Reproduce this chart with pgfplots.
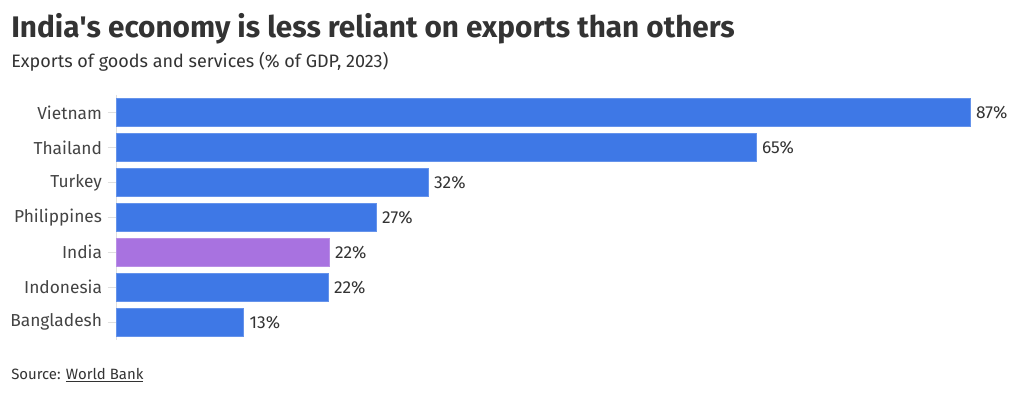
\documentclass[border=0pt]{standalone}
\usepackage{pgfplots}
\pgfplotsset{compat=1.18}
\usepackage{fontspec}
\setmainfont{Fira Sans}
\definecolor{barblue}{HTML}{3E78E6}
\definecolor{barpurple}{HTML}{A872E0}
\definecolor{txt}{HTML}{333333}
\definecolor{lbl}{HTML}{444444}
\begin{document}
\begin{tikzpicture}
\fill[white] (0,0) rectangle (765pt,-295.5pt);
\node[anchor=base west, font=\fontsize{22.3}{25}\selectfont\bfseries, text=txt, inner sep=0] at (8.25pt,-28.3pt) {India\textquotesingle s economy is less reliant on exports than others};
\node[anchor=base west, font=\fontsize{13.5}{15}\selectfont, text=txt, inner sep=0] at (8.25pt,-50.8pt) {Exports of goods and services (\% of GDP, 2023)};
\node[anchor=base west, font=\fontsize{11.2}{13}\selectfont, text=txt, inner sep=0] at (8.25pt,-284.7pt) {Source: \underline{World Bank}};
\begin{axis}[
  at={(87pt,-71.2pt)}, anchor=north west,
  scale only axis, width=640.5pt, height=183.6pt,
  xmin=0, xmax=87, ymin=-0.5, ymax=6.5, y dir=reverse,
  xbar, bar width=20.6pt, bar shift=0pt,
  axis x line=none, axis y line*=left,
  y axis line style={draw=black!12},
  ytick={0,1,2,3,4,5,6},
  yticklabels={Vietnam,Thailand,Turkey,Philippines,India,Indonesia,Bangladesh},
  major tick length=6pt,
  ytick style={draw=black!12},
  yticklabel style={font=\fontsize{13}{15}\selectfont, text=lbl, xshift=-1pt},
  /pgf/number format/assume math mode=true,
  nodes near coords={\pgfmathprintnumber[fixed,precision=0,assume math mode=true]{\pgfplotspointmeta}\%},
  nodes near coords style={font=\fontsize{13}{15}\selectfont, text=txt, anchor=west, xshift=1pt},
  clip=false,
]
\addplot[fill=barblue, draw=barblue!80!white] coordinates {(87.0,0) (65.2,1) (31.8,2) (26.5,3) (21.6,5) (13.0,6)};
\addplot[fill=barpurple, draw=barpurple!80!white] coordinates {(21.7,4)};
\end{axis}
\end{tikzpicture}
\end{document}
